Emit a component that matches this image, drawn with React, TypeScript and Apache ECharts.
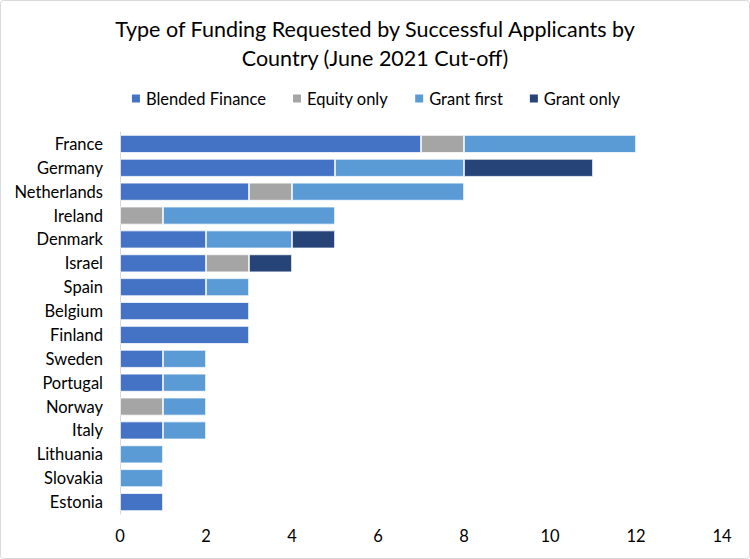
import React, { useEffect, useRef } from "react";
import * as echarts from "echarts";

const countries = [
  "France", "Germany", "Netherlands", "Ireland", "Denmark", "Israel", "Spain", "Belgium",
  "Finland", "Sweden", "Portugal", "Norway", "Italy", "Lithuania", "Slovakia", "Estonia",
];
const blendedFinance = [7, 5, 3, 0, 2, 2, 2, 3, 3, 1, 1, 0, 1, 0, 0, 1];
const equityOnly = [1, 0, 1, 1, 0, 1, 0, 0, 0, 0, 0, 1, 0, 0, 0, 0];
const grantFirst = [4, 3, 4, 4, 2, 0, 1, 0, 0, 1, 1, 1, 1, 1, 1, 0];
const grantOnly = [0, 3, 0, 0, 1, 1, 0, 0, 0, 0, 0, 0, 0, 0, 0, 0];
const xTicks = [0, 2, 4, 6, 8, 10, 12, 14];

const seriesDefs = [
  { name: "Blended Finance", data: blendedFinance, color: "#4472C4" },
  { name: "Equity only", data: equityOnly, color: "#A5A5A5" },
  { name: "Grant first", data: grantFirst, color: "#5B9BD5" },
  { name: "Grant only", data: grantOnly, color: "#264478" },
];

const FONT = "Lato, 'Open Sans', sans-serif";

export default function App() {
  const ref = useRef<HTMLDivElement>(null);
  useEffect(() => {
    document.body.style.margin = "0";
    const chart = echarts.init(ref.current!, undefined, { renderer: "svg" });
    chart.setOption({
      animation: false,
      backgroundColor: "#ffffff",
      textStyle: { fontFamily: FONT },
      title: {
        text: "Type of Funding Requested by Successful Applicants by\nCountry (June 2021 Cut-off)",
        left: "center",
        top: 14,
        padding: 0,
        textStyle: { fontFamily: FONT, fontSize: 21.5, fontWeight: "normal", color: "#000000", lineHeight: 29 },
      },
      legend: {
        top: 85,
        left: "center",
        itemWidth: 10,
        itemHeight: 10,
        itemGap: 25,
        icon: "rect",
        textStyle: { fontFamily: FONT, fontSize: 16.5, color: "#000000" },
        data: seriesDefs.map((s) => s.name),
      },
      graphic: [
        {
          type: "rect",
          shape: { x: 0.5, y: 0.5, width: 749, height: 558, r: 3 },
          style: { fill: "none", stroke: "#d9d9d9", lineWidth: 1 },
          silent: true,
        },
      ],
      grid: { left: 120, right: 28, top: 132, bottom: 45, containLabel: false },
      xAxis: {
        type: "value",
        min: 0,
        max: 14,
        interval: 2,
        axisLine: { show: false },
        axisTick: { show: false },
        splitLine: { show: false },
        axisLabel: {
          fontFamily: FONT,
          fontSize: 16.5,
          color: "#000000",
          margin: 13,
          formatter: (v: number) => (xTicks.includes(v) ? String(v) : ""),
        },
      },
      yAxis: {
        type: "category",
        data: countries,
        inverse: true,
        axisLine: { show: true, lineStyle: { color: "#d9d9d9", width: 1 } },
        axisTick: { show: false },
        axisLabel: { fontFamily: FONT, fontSize: 16.5, color: "#000000", margin: 17 },
      },
      series: seriesDefs.map((s) => ({
        name: s.name,
        type: "bar",
        stack: "total",
        barCategoryGap: "25%",
        data: s.data.map((v) => (v === 0 ? null : v)),
        itemStyle: { color: s.color, borderColor: "#ffffff", borderWidth: 0.75 },
      })),
    });
    return () => chart.dispose();
  }, []);
  return <div ref={ref} style={{ width: 750, height: 559 }} />;
}
